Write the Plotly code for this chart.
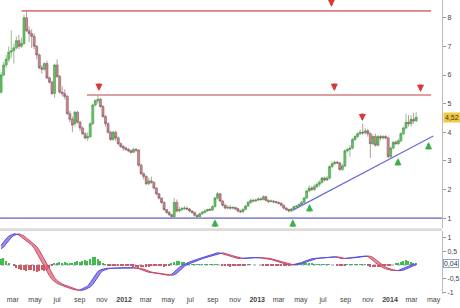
import plotly.graph_objects as go
import pandas as pd

# ---------------- data (weekly candles) ----------------
start_date = "2011-01-28"
opens = [5.40,6.00,6.35,6.55,6.80,6.85,6.95,7.20,7.00,7.10,8.00,7.55,7.45,7.35,7.00,6.70,6.25,6.20,6.40,5.90,
         5.75,5.35,6.35,5.95,5.40,5.35,5.25,4.65,4.45,4.30,4.70,4.35,4.15,3.95,3.80,3.85,4.30,4.95,5.10,5.15,
         4.90,4.55,4.30,4.00,3.75,4.00,3.80,3.60,3.50,3.45,3.40,3.35,3.30,3.40,3.38,2.85,2.55,2.45,2.20,2.30,
         2.25,2.05,1.85,1.70,1.55,1.30,1.20,1.12,1.05,1.55,1.25,1.30,1.33,1.35,1.32,1.25,1.20,1.10,1.05,1.15,
         1.20,1.25,1.30,1.28,1.40,1.70,1.85,1.60,1.45,1.35,1.38,1.35,1.37,1.33,1.25,1.22,1.30,1.42,1.55,1.62,
         1.60,1.63,1.67,1.65,1.75,1.62,1.58,1.60,1.57,1.55,1.52,1.45,1.35,1.30,1.25,1.32,1.40,1.42,1.48,1.55,
         1.70,1.95,2.05,2.00,2.10,2.18,2.25,2.40,2.33,2.40,2.80,2.90,2.95,2.93,2.70,2.82,3.35,3.40,3.45,3.75,
         3.85,3.95,4.00,3.98,4.05,3.95,3.60,3.85,3.55,3.85,3.80,3.85,3.80,3.15,3.45,3.65,3.60,3.70,3.95,4.15,
         4.35,4.30,4.45,4.40]
highs = [6.10,6.45,6.70,7.00,7.55,7.10,7.35,7.40,7.30,8.10,8.27,7.70,7.60,7.45,7.05,6.75,6.35,6.45,6.50,5.95,
         5.80,6.40,6.55,6.00,5.60,5.50,5.30,4.75,4.55,4.75,4.75,4.40,4.20,4.00,4.00,4.35,5.00,5.15,5.30,5.20,
         4.95,4.60,4.35,4.05,4.05,4.05,3.85,3.65,3.55,3.50,3.45,3.40,3.45,3.45,3.40,2.90,2.60,2.50,2.40,2.45,
         2.28,2.08,1.88,1.72,1.58,1.32,1.25,1.15,1.70,1.65,1.40,1.40,1.42,1.40,1.35,1.28,1.22,1.12,1.18,1.25,
         1.30,1.33,1.35,1.45,1.75,1.92,1.88,1.62,1.50,1.45,1.45,1.42,1.40,1.36,1.30,1.35,1.46,1.60,1.68,1.68,
         1.68,1.72,1.72,1.80,1.78,1.65,1.65,1.62,1.60,1.58,1.55,1.48,1.38,1.33,1.35,1.44,1.46,1.52,1.60,1.75,
         2.00,2.15,2.12,2.18,2.25,2.32,2.45,2.45,2.48,2.85,2.98,3.00,3.00,2.97,2.90,3.40,3.45,3.55,3.80,3.90,
         4.00,4.10,4.30,4.15,4.12,4.00,3.92,3.95,3.90,3.90,3.90,3.90,3.85,3.50,3.70,3.72,3.78,4.00,4.20,4.65,
         4.60,4.60,4.68,4.70]
lows = [5.35,5.95,6.25,6.45,6.60,6.40,6.90,6.90,6.95,7.05,7.50,7.15,6.95,6.90,6.55,6.20,6.05,6.15,5.85,5.70,
        5.30,5.20,5.90,5.35,5.25,5.15,4.60,4.35,4.00,4.20,4.30,4.05,3.90,3.75,3.70,3.80,4.25,4.90,5.00,4.85,
        4.50,4.20,3.95,3.70,3.70,3.70,3.55,3.45,3.35,3.35,3.30,3.25,3.28,3.30,2.80,2.50,2.35,2.15,2.15,2.20,
        2.00,1.80,1.65,1.50,1.25,1.15,1.08,1.00,1.02,1.20,1.20,1.25,1.28,1.28,1.20,1.15,1.05,1.00,1.03,1.12,
        1.17,1.22,1.25,1.26,1.38,1.65,1.55,1.40,1.30,1.30,1.30,1.30,1.28,1.20,1.18,1.20,1.28,1.40,1.50,1.55,
        1.56,1.60,1.60,1.62,1.58,1.52,1.55,1.52,1.50,1.48,1.40,1.30,1.25,1.20,1.22,1.30,1.36,1.40,1.45,1.52,
        1.68,1.90,1.95,1.95,2.05,2.10,2.20,2.28,2.30,2.35,2.75,2.85,2.88,2.65,2.65,2.78,3.30,3.15,3.40,3.70,
        3.80,3.90,3.90,3.92,3.85,3.10,3.55,3.50,3.50,3.72,3.75,3.75,3.10,3.08,3.40,3.55,3.55,3.65,3.90,4.10,
        4.20,4.20,4.30,4.35]
closes = [6.00,6.35,6.55,6.80,6.85,6.95,7.20,7.00,7.10,8.00,7.55,7.45,7.35,7.00,6.70,6.25,6.20,6.40,5.90,5.75,
          5.35,6.35,5.95,5.40,5.35,5.25,4.65,4.45,4.25,4.70,4.35,4.15,3.95,3.80,3.85,4.30,4.95,5.10,5.15,4.90,
          4.55,4.30,4.00,3.75,4.00,3.80,3.60,3.50,3.45,3.40,3.35,3.30,3.40,3.38,2.85,2.55,2.45,2.20,2.30,2.25,
          2.05,1.85,1.70,1.55,1.30,1.20,1.12,1.05,1.55,1.25,1.30,1.33,1.35,1.32,1.25,1.20,1.10,1.05,1.15,1.20,
          1.25,1.30,1.28,1.40,1.70,1.85,1.60,1.45,1.35,1.38,1.35,1.37,1.33,1.25,1.22,1.30,1.42,1.55,1.62,1.60,
          1.63,1.67,1.65,1.75,1.62,1.58,1.60,1.57,1.55,1.52,1.45,1.35,1.30,1.25,1.32,1.40,1.42,1.48,1.55,1.70,
          1.95,2.05,2.00,2.10,2.18,2.25,2.40,2.33,2.40,2.80,2.90,2.95,2.93,2.70,2.82,3.35,3.40,3.45,3.75,3.85,
          3.95,4.00,3.98,4.05,3.95,3.60,3.85,3.55,3.85,3.80,3.85,3.80,3.15,3.45,3.65,3.60,3.70,3.95,4.15,4.35,
          4.30,4.45,4.40,4.52]

# MACD panel (weekly)
macd = [0.72,0.85,0.97,1.06,1.12,1.15,1.14,1.10,1.03,0.95,0.88,0.82,0.74,0.62,0.45,0.28,0.08,-0.08,-0.25,-0.40,
        -0.53,-0.62,-0.68,-0.72,-0.76,-0.79,-0.82,-0.86,-0.89,-0.92,-0.93,-0.92,-0.88,-0.84,-0.78,-0.65,-0.50,-0.36,-0.24,-0.18,
        -0.15,-0.13,-0.12,-0.12,-0.11,-0.11,-0.10,-0.10,-0.10,-0.10,-0.10,-0.10,-0.11,-0.12,-0.13,-0.17,-0.21,-0.25,-0.27,-0.28,
        -0.29,-0.30,-0.31,-0.33,-0.35,-0.37,-0.38,-0.34,-0.27,-0.17,-0.08,-0.02,0.03,0.07,0.11,0.15,0.18,0.21,0.24,0.27,
        0.30,0.33,0.36,0.39,0.42,0.45,0.44,0.41,0.38,0.35,0.32,0.29,0.26,0.24,0.24,0.25,0.26,0.27,0.27,0.27,
        0.27,0.27,0.26,0.25,0.24,0.22,0.20,0.17,0.14,0.11,0.08,0.05,0.02,0.00,0.00,0.02,0.04,0.06,0.09,0.13,
        0.17,0.21,0.23,0.24,0.25,0.26,0.27,0.28,0.29,0.30,0.30,0.30,0.28,0.25,0.23,0.24,0.25,0.26,0.27,0.28,
        0.30,0.31,0.33,0.33,0.31,0.25,0.17,0.08,0.01,-0.05,-0.10,-0.14,-0.17,-0.19,-0.20,-0.21,-0.20,-0.17,-0.12,-0.08,
        -0.04,-0.01,0.02,0.04]
signal = [0.60,0.66,0.78,0.91,1.01,1.09,1.13,1.15,1.12,1.07,0.99,0.92,0.85,0.78,0.68,0.54,0.37,0.18,0.00,-0.17,
          -0.33,-0.47,-0.58,-0.65,-0.70,-0.74,-0.78,-0.81,-0.84,-0.88,-0.91,-0.93,-0.93,-0.90,-0.86,-0.81,-0.72,-0.58,-0.43,-0.30,
          -0.21,-0.17,-0.14,-0.13,-0.12,-0.12,-0.11,-0.11,-0.10,-0.10,-0.10,-0.10,-0.10,-0.11,-0.12,-0.13,-0.15,-0.19,-0.23,-0.26,
          -0.28,-0.29,-0.30,-0.31,-0.32,-0.34,-0.36,-0.38,-0.36,-0.31,-0.22,-0.13,-0.05,0.01,0.05,0.09,0.13,0.17,0.20,0.23,
          0.26,0.29,0.32,0.35,0.38,0.41,0.44,0.45,0.43,0.40,0.37,0.34,0.31,0.28,0.25,0.24,0.25,0.26,0.27,0.27,
          0.27,0.27,0.27,0.27,0.26,0.25,0.23,0.21,0.19,0.16,0.13,0.10,0.07,0.04,0.01,0.00,0.01,0.03,0.05,0.08,
          0.11,0.15,0.19,0.22,0.24,0.25,0.26,0.27,0.28,0.29,0.30,0.30,0.30,0.29,0.27,0.24,0.24,0.25,0.26,0.27,
          0.28,0.29,0.31,0.32,0.33,0.32,0.28,0.21,0.13,0.05,-0.02,-0.08,-0.12,-0.16,-0.18,-0.20,-0.21,-0.21,-0.19,-0.15,
          -0.10,-0.06,-0.03,0.01]
hist = [0.20,0.25,0.15,0.05,0.00,-0.05,-0.12,-0.15,-0.18,-0.20,-0.22,-0.18,-0.20,-0.24,-0.25,-0.22,-0.20,-0.22,-0.18,-0.12,-0.05,
        0.05,0.08,0.10,0.08,0.10,0.06,0.04,0.06,0.12,0.15,0.12,0.14,0.18,0.15,0.22,0.28,0.30,0.22,0.15,0.06,0.02,
        -0.03,-0.04,-0.03,-0.04,-0.03,-0.03,-0.04,-0.03,-0.04,-0.05,
        -0.06,-0.08,-0.10,-0.09,-0.08,-0.07,-0.06,-0.05,-0.05,
        -0.04,-0.04,-0.05,-0.06,-0.05,-0.03,
        0.08,0.12,0.15,0.14,0.12,0.10,0.06,
        0.03,0.02,0.02,0.02,0.02,0.02,0.02,0.02,0.02,0.02,0.02,0.01,0.00,
        -0.03,-0.05,-0.05,-0.06,-0.05,-0.05,-0.04,-0.04,-0.03,-0.02,
        0.01,0.01,0.00,0.00,0.00,0.00,-0.01,-0.01,-0.02,-0.02,-0.02,-0.02,-0.02,-0.02,-0.02,-0.02,-0.01,0.00,0.01,0.02,
        0.06,0.08,0.09,0.08,0.07,0.05,0.03,0.02,
        0.01,0.01,0.01,0.01,0.01,0.00,0.00,-0.01,
        -0.04,-0.04,-0.03,
        0.01,0.01,0.01,0.02,0.02,0.02,0.02,0.01,
        -0.03,-0.06,-0.08,-0.09,-0.08,-0.07,-0.05,-0.03,
        -0.02,-0.01,0.00,
        0.04,0.08,0.12,0.15,0.17,0.16,0.12,0.08,0.05]

# support / resistance lines
res_top = {"x": ["2011-03-25", "2014-04-24"], "y": [8.24, 8.24]}
res_mid = {"x": ["2011-09-21", "2014-04-24"], "y": [5.30, 5.30]}
sup_low = {"x": ["2011-01-20", "2014-05-26"], "y": [1.0, 1.0]}
trend = {"x": ["2013-04-09", "2014-04-30"], "y": [1.28, 3.87]}

# signal arrows (tip positions)
down_x = ["2011-10-24", "2013-07-24", "2013-08-01", "2014-03-26", "2013-10-17"]
down_y = [5.44, 8.38, 5.44, 5.41, 4.39]
up_x = ["2012-09-07", "2013-04-09", "2013-05-25", "2014-01-23", "2014-04-17"]
up_y = [0.96, 0.96, 1.49, 3.10, 3.66]

tick_dates = ["2011-03-01", "2011-05-01", "2011-07-01", "2011-09-01", "2011-11-01", "2012-01-01",
              "2012-03-01", "2012-05-01", "2012-07-01", "2012-09-01", "2012-11-01", "2013-01-01",
              "2013-03-01", "2013-05-01", "2013-07-01", "2013-09-01", "2013-11-01", "2014-01-01",
              "2014-03-01", "2014-05-01"]
tick_text = ["mar", "may", "jul", "sep", "nov", "<b>2012</b>", "mar", "may", "jul", "sep", "nov", "<b>2013</b>",
             "mar", "may", "jul", "sep", "nov", "<b>2014</b>", "mar", "may"]

last_price_label = "4,52"
last_macd_label = "0,04"

n = len(closes)
assert len(opens) == n and len(highs) == n and len(lows) == n, (len(opens), len(highs), len(lows), n)
assert len(macd) == n and len(signal) == n and len(hist) == n, (len(macd), len(signal), len(hist), n)

dates = pd.date_range(start_date, periods=n, freq="7D")

fig = go.Figure()

# price candles
fig.add_trace(go.Candlestick(
    x=dates, open=opens, high=highs, low=lows, close=closes,
    increasing=dict(line=dict(color="#4c944c", width=0.6), fillcolor="#5cc85c"),
    decreasing=dict(line=dict(color="#86585e", width=0.6), fillcolor="#cc8890"),
    whiskerwidth=0, showlegend=False, xaxis="x", yaxis="y"))

for ln, col, w in [(res_top, "#d47f85", 1.6), (res_mid, "#d47f85", 1.6),
                   (sup_low, "#8d8dcf", 1.6), (trend, "#6b6bd6", 1.2)]:
    fig.add_trace(go.Scatter(x=ln["x"], y=ln["y"], mode="lines", line=dict(color=col, width=w),
                             showlegend=False, hoverinfo="skip", xaxis="x", yaxis="y"))

# MACD histogram
hcol = ["#3fbf4a" if v >= 0 else "#d35860" for v in hist]
fig.add_trace(go.Bar(x=dates, y=hist, marker=dict(color=hcol, line=dict(width=0)),
                     width=4 * 24 * 3600 * 1000, showlegend=False, xaxis="x", yaxis="y2"))

# zero line
fig.add_trace(go.Scatter(x=[dates[0], dates[-1]], y=[0, 0], mode="lines",
                         line=dict(color="#6a78b0", width=0.8, dash="dot"),
                         showlegend=False, hoverinfo="skip", xaxis="x", yaxis="y2"))

# MACD ribbon (colour depends on which line is on top)
diff = [m - s for m, s in zip(macd, signal)]
segs = []
cur = 1 if diff[0] >= 0 else -1
idx = [0]
for i in range(1, n):
    sg = 1 if diff[i] >= 0 else -1
    idx.append(i)
    if sg != cur:
        segs.append((cur, idx))
        cur = sg
        idx = [i]
segs.append((cur, idx))
for sg, ids in segs:
    if sg > 0:
        fc, lc = "rgba(112,100,232,0.75)", "#5a4fd8"
    else:
        fc, lc = "rgba(226,104,122,0.75)", "#c84868"
    xs = [dates[i] for i in ids]
    fig.add_trace(go.Scatter(x=xs, y=[signal[i] for i in ids], mode="lines",
                             line=dict(color=lc, width=1), showlegend=False, xaxis="x", yaxis="y2"))
    fig.add_trace(go.Scatter(x=xs, y=[macd[i] for i in ids], mode="lines", fill="tonexty",
                             fillcolor=fc, line=dict(color=lc, width=1), showlegend=False,
                             xaxis="x", yaxis="y2"))

annotations = [
    dict(x=1, xref="paper", y=4.52, yref="y", text=last_price_label, showarrow=False,
         xanchor="left", xshift=1, bgcolor="#f2c93e", font=dict(size=7, color="#333"), borderpad=1),
    dict(x=1, xref="paper", y=0.04, yref="y2", text=last_macd_label, showarrow=False,
         xanchor="left", xshift=1, bgcolor="white", bordercolor="#8fa3d6", borderwidth=1,
         font=dict(size=7, color="#333"), borderpad=0),
]
for xv, yv in zip(down_x, down_y):
    annotations.append(dict(x=xv, y=yv, xref="x", yref="y", text="", showarrow=True,
                            ax=0, ay=-9, arrowhead=2, arrowsize=0.6, arrowwidth=2.4,
                            arrowcolor="#d83a3a", standoff=0))
for xv, yv in zip(up_x, up_y):
    annotations.append(dict(x=xv, y=yv, xref="x", yref="y", text="", showarrow=True,
                            ax=0, ay=9, arrowhead=2, arrowsize=0.6, arrowwidth=2.4,
                            arrowcolor="#3db04a", standoff=0))

FONT = "Liberation Sans, Arial, sans-serif"
fig.update_layout(
    width=460, height=308,
    margin=dict(l=0, r=14, t=0, b=14),
    paper_bgcolor="white", plot_bgcolor="white",
    font=dict(family=FONT, size=7, color="#444"),
    showlegend=False,
    bargap=0, boxgap=0.2, boxgroupgap=0,
    xaxis=dict(type="date", range=["2011-01-25", "2014-05-24"], anchor="y2",
               tickvals=tick_dates, ticktext=tick_text, showgrid=False, zeroline=False,
               rangeslider=dict(visible=False), ticks="", tickfont=dict(size=7, color="#444"),
               showline=False),
    yaxis=dict(domain=[0.224, 1.0], range=[0.65, 8.62], side="right", anchor="x",
               tickvals=[1, 2, 3, 4, 5, 6, 7, 8], showgrid=False, zeroline=False,
               showline=True, linecolor="#bcbcbc", linewidth=1, ticks="outside", ticklen=3,
               tickcolor="#999", tickfont=dict(size=7, color="#444")),
    yaxis2=dict(domain=[0.0, 0.214], range=[-1.07, 1.25], side="right", anchor="x",
                tickvals=[1, 0.5, -0.5, -1], ticktext=["1", "0,5", "-0,5", "-1"],
                showgrid=False, zeroline=False, showline=True, linecolor="#bcbcbc", linewidth=1,
                ticks="outside", ticklen=3, tickcolor="#999", tickfont=dict(size=7, color="#444")),
    shapes=[dict(type="rect", xref="paper", yref="paper", x0=0, x1=1, y0=0.214, y1=0.224,
                 fillcolor="#dcdcdc", line=dict(width=0), layer="below")],
    annotations=annotations,
)

fig.write_html("out.html")
